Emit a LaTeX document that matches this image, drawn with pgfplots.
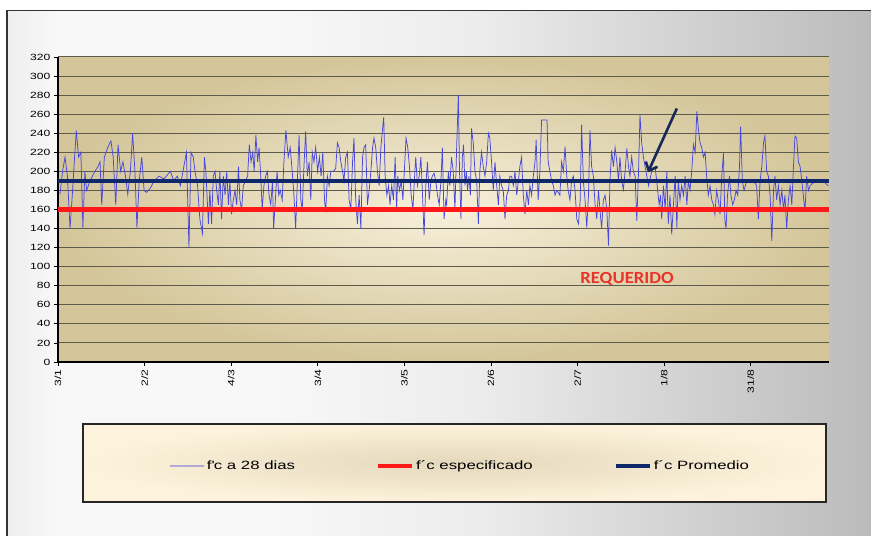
\documentclass[border=0pt]{standalone}
\usepackage{fontspec}
\setmainfont{Liberation Sans}
\newfontfamily\tickfont[FakeStretch=1.35]{Liberation Sans}
\newfontfamily\legfont[FakeStretch=1.4]{Liberation Sans}
\newfontfamily\notefont[FakeStretch=1.1]{Carlito}
\usepackage{pgfplots}
\pgfplotsset{compat=1.18}
\usetikzlibrary{arrows.meta}

\definecolor{serie}{RGB}{72,72,222}
\definecolor{especif}{RGB}{255,24,24}
\definecolor{promedio}{RGB}{14,40,105}
\definecolor{gridc}{RGB}{94,90,76}
\definecolor{areain}{RGB}{247,240,219}
\definecolor{areaout}{RGB}{212,198,154}
\definecolor{legfill}{RGB}{253,243,220}
\definecolor{legshade}{RGB}{228,216,188}
\definecolor{legline}{RGB}{178,170,214}
\definecolor{requerido}{RGB}{232,52,42}
\definecolor{arrowc}{RGB}{22,40,90}
\definecolor{panA}{RGB}{238,238,238}
\definecolor{panB}{RGB}{248,248,248}
\definecolor{panC}{RGB}{236,236,236}
\definecolor{panD}{RGB}{214,214,214}
\definecolor{panE}{RGB}{186,186,186}

\pgfdeclarehorizontalshading{panelshade}{100bp}{%
  color(0bp)=(panA); color(25bp)=(panA); color(28bp)=(panB);
  color(40bp)=(panB); color(52bp)=(panC); color(62bp)=(panD);
  color(75bp)=(panE); color(100bp)=(panE)}

\begin{document}
\begin{tikzpicture}
\useasboundingbox (0pt,0pt) rectangle (871pt,536pt);
\fill[white] (0pt,0pt) rectangle (871pt,536pt);
% chart area
\shade[shading=panelshade] (7pt,-5pt) rectangle (880pt,525.5pt);
\draw[line width=1.4pt, black!80] (7pt,-5pt) -- (7pt,525.5pt) -- (880pt,525.5pt);
% legend frame
\shade[inner color=legshade, outer color=legfill] (83pt,34pt) rectangle (826pt,112pt);
\draw[line width=1.2pt, black!85] (83pt,34pt) rectangle (826pt,112pt);

\begin{axis}[
  at={(58pt,174pt)}, anchor=south west,
  width=771pt, height=305pt, scale only axis,
  xmin=-0.7, xmax=268.9, ymin=0, ymax=320,
  axis lines=left,
  axis line style={-, line width=1.1pt, black},
  ytick={0,20,...,320},
  xtick={-0.7,29.58,59.86,90.14,120.42,150.7,180.98,211.26,241.54},
  xticklabels={3/1,2/2,4/3,3/4,3/5,2/6,2/7,1/8,31/8},
  xticklabel style={rotate=90, anchor=east, font=\tickfont\fontsize{9}{10}\selectfont},
  yticklabel style={font=\tickfont\fontsize{9}{10}\selectfont},
  /pgf/number format/assume math mode=true,
  tick align=outside, major tick length=4pt,
  tick style={black, line width=0.8pt},
  ymajorgrids, grid style={gridc, line width=1pt},
  axis background/.style={shade, inner color=areain, outer color=areaout},
  legend columns=3,
  legend style={at={(0.5214,-0.341)}, anchor=center, draw=none, fill=none,
    font=\legfont\fontsize{12}{14}\selectfont,
    /tikz/every even column/.append style={column sep=79pt}},
  legend image code/.code={\draw[#1] (0pt,0pt) -- (34pt,0pt);},
]

% compressive strength at 28 days
\addplot[serie, line width=0.75pt, forget plot] coordinates {
(0,176) (0.9,200) (1.75,215) (2.6,195) (3.5,140) (4.3,175) (5.0,210) (5.7,243)
(6.5,215) (7.3,220) (8.0,141) (8.7,200) (9.3,180) (10.5,190) (12.2,200) (13.3,205)
(14.0,210) (14.6,165) (15.5,215) (16.7,225) (17.8,232) (18.6,215) (19.5,165) (20.3,228)
(21.2,200) (22.0,210) (22.9,195) (23.7,176) (24.6,200) (25.4,240) (26.2,200) (26.9,141)
(27.7,190) (28.6,215) (29.4,180) (30.3,178) (31.7,183) (32.9,190) (34.6,195) (36.3,192)
(38.6,200) (39.8,190) (41.0,195) (42.1,185) (43.3,205) (44.2,220)
(45.1,120) (45.8,220) (46.6,215) (47.2,200) (48.1,185) (48.9,150) (49.8,135) (50.5,215)
(51.0,200) (51.9,145) (52.4,180) (53.0,145) (53.6,195) (54.2,200) (54.8,180) (55.4,165)
(55.9,200) (56.5,150) (57.1,195) (57.7,175) (58.3,200) (58.9,165) (59.4,190) (60.0,155)
(60.6,170) (61.2,180) (61.8,165) (62.4,205) (62.9,170) (63.5,160) (64.1,185) (64.9,190)
(65.6,195) (66.2,228) (66.8,210) (67.4,220) (67.9,200) (68.5,238) (69.1,210) (69.6,225)
(70.2,195) (70.7,160) (71.3,185) (71.9,195) (72.5,200) (73.1,175) (73.7,165) (74.3,190)
(74.7,140) (75.3,170) (75.9,200) (76.5,175) (77.0,180) (77.7,170) (78.3,210) (79.0,243)
(79.8,215) (80.5,225) (81.2,200) (81.8,175) (82.4,140) (83.0,190) (83.6,238) (84.2,170)
(84.7,160) (85.3,205) (85.9,242) (86.5,195) (87.1,210) (87.7,170) (88.2,220) (88.8,210)
(89.4,225)
(90.1,200) (90.7,215) (91.3,195) (91.9,220) (92.5,170) (92.9,157) (93.5,195) (94.1,185)
(94.7,200) (95.6,200) (96.4,203) (97.0,230) (97.6,225) (98.2,210) (98.8,200) (99.3,190)
(99.9,215) (100.5,220) (101.1,170) (101.7,160) (102.3,210) (102.8,235) (103.4,170) (104.0,145)
(104.6,175) (105.2,140) (105.8,215) (106.3,225) (106.9,228) (107.5,165) (108.1,180) (108.7,200)
(109.3,225) (109.8,235) (110.4,225) (111.0,200) (111.6,185) (112.2,225) (112.8,245) (113.2,257)
(113.7,195) (114.3,175) (114.9,185) (115.4,165) (116.0,185) (116.6,170) (117.2,215) (117.7,160)
(118.1,195) (118.7,180) (119.3,190) (119.9,170) (120.4,200) (121.0,235) (121.6,225) (122.2,205)
(122.8,175) (123.4,160) (123.9,190) (124.4,215) (125.0,185) (125.6,195) (126.2,215) (126.7,180)
(127.3,133) (127.9,185) (128.5,210) (129.1,170) (129.7,190) (130.2,195) (130.8,198) (131.4,190)
(132.0,175) (132.6,165) (133.2,190) (133.7,225) (134.3,150) (134.9,170)
(135.2,165) (135.8,200) (136.3,185) (136.9,215) (137.5,200) (138.1,160) (138.7,225) (139.3,280)
(139.7,200) (140.2,150) (140.7,215) (141.1,228) (141.6,185) (142.1,200) (142.5,180) (143.0,195)
(143.5,175) (143.9,245) (144.5,230) (145.1,200) (145.7,190) (146.3,145) (146.8,200) (147.4,220)
(148.0,205) (148.6,195) (149.2,210) (149.8,240) (150.3,235) (150.9,210) (151.5,180) (152.1,210)
(152.7,185) (153.3,165) (153.8,195) (154.4,185) (155.0,180) (155.6,150) (156.2,175) (156.8,180)
(157.3,195) (157.9,195) (158.5,185) (159.1,200) (159.7,175) (160.3,190) (160.8,205) (161.4,215)
(162.0,175) (162.6,155) (163.2,180) (163.8,165) (164.3,185) (164.9,175) (165.5,195) (166.1,210)
(166.5,233) (167.2,170) (167.8,200) (168.4,254) (169.6,254) (170.3,254) (170.7,210) (171.3,200)
(171.9,190) (172.5,185) (173.1,175) (173.7,180) (174.2,178) (174.8,175) (175.4,210) (176.0,200)
(176.6,226) (177.2,195) (177.7,180) (178.3,170) (178.9,190) (179.5,195) (180.1,180)
(180.7,150) (181.3,145) (181.9,170) (182.4,249) (183.0,190) (183.6,170) (184.2,141) (184.8,175)
(185.3,243) (185.9,205) (186.5,195) (187.1,165) (187.7,150) (188.3,180) (188.8,160) (189.4,140)
(190.0,170) (190.6,175) (191.2,160) (191.8,122) (192.3,190) (192.9,222) (193.5,205) (194.1,225)
(194.7,210) (195.3,190) (195.8,215) (196.4,190) (197.0,181) (197.6,200) (198.2,224) (198.8,205)
(199.3,195) (199.9,215) (200.5,200) (201.1,195) (201.7,148) (202.3,200) (202.8,259) (203.4,230)
(204.0,215) (204.6,205) (205.2,195) (205.8,185) (206.9,200) (208.1,205) (209.0,180) (209.5,165)
(210.0,175) (210.4,150) (211.0,185) (211.6,160) (212.2,200) (212.7,145) (213.3,175) (213.9,134)
(214.5,165) (215.1,195) (215.7,141) (216.2,190) (216.8,170) (217.4,185) (218.0,175) (218.6,195)
(219.2,165) (219.7,190) (220.3,180) (220.9,200) (221.5,228) (222.1,220) (222.7,263) (223.2,245)
(223.8,230) (224.4,225) (225.0,215) (225.6,220)
(226.1,195) (226.7,175) (227.3,185) (227.9,170) (228.5,165) (229.0,155) (229.6,180) (230.2,170)
(230.8,155) (231.4,195) (232.0,219) (232.5,148) (232.9,140) (233.4,175) (234.1,195) (234.6,175)
(235.2,165) (235.8,170) (236.4,180) (237.0,175) (237.6,205) (238.0,247) (238.6,190) (239.2,180)
(240.1,190) (241.3,188) (242.5,190) (243.6,185) (244.2,150) (244.8,190) (245.4,205) (246.0,230)
(246.5,237) (247.1,200) (247.7,195) (248.3,175) (248.9,127) (249.5,180) (250.0,195) (250.6,170)
(251.2,185) (251.8,165) (252.4,180) (253.0,160) (253.5,175) (254.1,140) (254.7,170) (255.3,185)
(255.9,165) (256.4,200) (257.0,237) (257.6,235) (258.2,210) (258.8,205) (259.4,190) (259.9,175)
(260.5,158) (261.1,195) (261.7,180) (262.3,185) (263.4,188) (264.6,190) (265.8,188) (266.9,190)
(268.6,185)
};
% specified strength
\addplot[especif, line width=4.5pt, forget plot] coordinates {(-0.7,160) (268.9,160)};
% average strength
\addplot[promedio, line width=4.5pt, forget plot] coordinates {(-0.7,190) (268.9,190)};

\addlegendimage{legline, line width=2pt}
\addlegendentry{f\textquotesingle c a 28 dias}
\addlegendimage{especif, line width=4pt}
\addlegendentry{f´c especificado}
\addlegendimage{promedio, line width=4pt}
\addlegendentry{f´c Promedio}

\draw[arrowc, line width=2.6pt, -{Straight Barb[length=7pt,width=13pt]}]
  (axis cs:215.7,266) -- (axis cs:205.6,199);
\node[text=requerido, font=\notefont\bfseries\fontsize{17}{18}\selectfont]
  at (axis cs:198.3,87) {REQUERIDO};
\end{axis}
\end{tikzpicture}
\end{document}
